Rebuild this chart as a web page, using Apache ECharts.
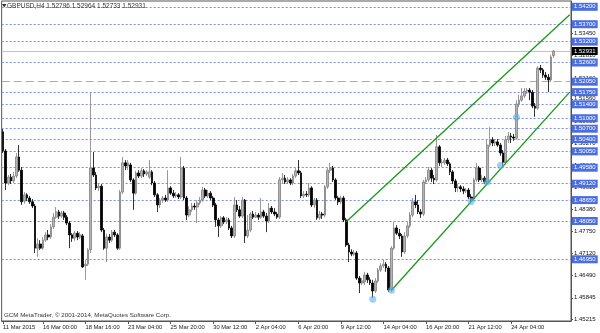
<!DOCTYPE html>
<html><head><meta charset="utf-8">
<script src="https://cdn.jsdelivr.net/npm/echarts@6/dist/echarts.min.js"></script>
<style>html,body{margin:0;padding:0;background:#fff}#c{width:600px;height:333px}</style>
</head><body><div id="c"></div>
<script>
// ---- data ----
const titleText = 'GBPUSD,H4 1.52796 1.52964 1.52733 1.52931';
const copyrightText = 'GCM MetaTrader, \u00a9 2001-2014, MetaQuotes Software Corp.';
// candles: [open, close, low, high]
const candles = [
[1.5061,1.5006,1.5000,1.5069],[1.5006,1.4914,1.4894,1.5012],[1.4914,1.4931,1.4908,1.4937],[1.4931,1.4920,1.4911,1.4940],
[1.4920,1.4934,1.4914,1.4946],[1.4934,1.4989,1.4928,1.5000],[1.4989,1.4951,1.4946,1.5023],[1.4951,1.4860,1.4851,1.4960],
[1.4862,1.4880,1.4854,1.4888],[1.4880,1.4871,1.4862,1.4885],[1.4871,1.4860,1.4854,1.4877],[1.4860,1.4848,1.4842,1.4868],
[1.4848,1.4727,1.4713,1.4854],[1.4727,1.4739,1.4702,1.4756],[1.4739,1.4727,1.4722,1.4750],[1.4727,1.4750,1.4722,1.4759],
[1.4750,1.4765,1.4745,1.4773],[1.4765,1.4759,1.4750,1.4779],[1.4759,1.4788,1.4753,1.4796],[1.4788,1.4816,1.4782,1.4828],
[1.4816,1.4831,1.4811,1.4845],[1.4831,1.4819,1.4811,1.4837],[1.4819,1.4828,1.4814,1.4834],[1.4828,1.4816,1.4808,1.4834],
[1.4816,1.4799,1.4793,1.4822],[1.4799,1.4765,1.4727,1.4805],[1.4765,1.4756,1.4745,1.4770],[1.4756,1.4770,1.4748,1.4776],
[1.4770,1.4759,1.4750,1.4776],[1.4759,1.4765,1.4753,1.4773],[1.4762,1.4673,1.4670,1.4768],[1.4676,1.4681,1.4636,1.4693],
[1.4681,1.4722,1.4676,1.4727],[1.4722,1.4957,1.4713,1.5173],[1.4957,1.4937,1.4931,1.5003],[1.4937,1.4900,1.4894,1.4946],
[1.4900,1.4905,1.4891,1.4914],[1.4905,1.4779,1.4773,1.4911],[1.4779,1.4727,1.4722,1.4785],[1.4727,1.4759,1.4687,1.4768],
[1.4759,1.4750,1.4742,1.4768],[1.4750,1.4773,1.4745,1.4779],[1.4773,1.4765,1.4759,1.4779],[1.4765,1.4727,1.4722,1.4770],
[1.4727,1.4888,1.4722,1.4894],[1.4888,1.4972,1.4882,1.4989],[1.4972,1.4963,1.4951,1.4980],[1.4963,1.4972,1.4951,1.4980],
[1.4966,1.4923,1.4917,1.4972],[1.4923,1.4885,1.4837,1.4928],[1.4885,1.4943,1.4880,1.4949],[1.4943,1.4934,1.4928,1.4951],
[1.4934,1.4949,1.4928,1.4957],[1.4949,1.4940,1.4931,1.4954],[1.4940,1.4946,1.4934,1.4951],[1.4931,1.4946,1.4926,1.4980],
[1.4946,1.4914,1.4908,1.4951],[1.4914,1.4880,1.4874,1.4920],[1.4880,1.4851,1.4831,1.4885],[1.4851,1.4865,1.4842,1.4871],
[1.4865,1.4871,1.4857,1.4877],[1.4871,1.4865,1.4860,1.4880],[1.4865,1.4900,1.4860,1.4951],[1.4900,1.4885,1.4880,1.4905],
[1.4885,1.4877,1.4871,1.4894],[1.4877,1.4880,1.4871,1.4888],[1.4880,1.4874,1.4868,1.4885],[1.4874,1.4957,1.4868,1.4989],
[1.4957,1.4871,1.4865,1.4963],[1.4871,1.4822,1.4808,1.4877],[1.4822,1.4837,1.4816,1.4848],[1.4837,1.4848,1.4831,1.4857],
[1.4848,1.4845,1.4837,1.4857],[1.4845,1.4857,1.4799,1.4865],[1.4857,1.4865,1.4851,1.4874],[1.4865,1.4894,1.4860,1.4903],
[1.4894,1.4877,1.4871,1.4900],[1.4877,1.4885,1.4871,1.4894],[1.4885,1.4871,1.4865,1.4891],[1.4871,1.4851,1.4845,1.4877],
[1.4851,1.4808,1.4788,1.4857],[1.4808,1.4791,1.4759,1.4814],[1.4791,1.4814,1.4785,1.4819],[1.4814,1.4802,1.4796,1.4819],
[1.4802,1.4808,1.4796,1.4816],[1.4808,1.4785,1.4779,1.4814],[1.4785,1.4762,1.4756,1.4791],[1.4762,1.4851,1.4756,1.4874],
[1.4851,1.4837,1.4831,1.4865],[1.4837,1.4819,1.4814,1.4848],[1.4819,1.4865,1.4814,1.4874],[1.4865,1.4762,1.4742,1.4868],
[1.4762,1.4779,1.4756,1.4822],[1.4779,1.4825,1.4773,1.4831],[1.4825,1.4816,1.4811,1.4834],[1.4816,1.4822,1.4814,1.4831],
[1.4822,1.4816,1.4808,1.4828],[1.4816,1.4831,1.4811,1.4871],[1.4831,1.4819,1.4814,1.4837],[1.4819,1.4805,1.4773,1.4828],
[1.4805,1.4842,1.4799,1.4857],[1.4842,1.4831,1.4825,1.4848],[1.4831,1.4825,1.4819,1.4842],[1.4825,1.4816,1.4811,1.4831],
[1.4816,1.4923,1.4811,1.4931],[1.4923,1.4928,1.4914,1.4943],[1.4928,1.4917,1.4911,1.4937],[1.4917,1.4923,1.4911,1.4931],
[1.4923,1.4914,1.4908,1.4928],[1.4914,1.4934,1.4908,1.4940],[1.4934,1.4949,1.4928,1.4957],[1.4949,1.4943,1.4937,1.4980],
[1.4943,1.4877,1.4871,1.4949],[1.4877,1.4882,1.4871,1.4891],[1.4882,1.4880,1.4874,1.4891],[1.4880,1.4900,1.4874,1.4914],
[1.4900,1.4851,1.4845,1.4905],[1.4851,1.4865,1.4842,1.4871],[1.4865,1.4814,1.4808,1.4871],[1.4814,1.4825,1.4808,1.4834],
[1.4825,1.4822,1.4811,1.4831],[1.4822,1.4903,1.4816,1.4908],[1.4903,1.4951,1.4897,1.4957],[1.4951,1.4957,1.4943,1.4972],
[1.4957,1.4923,1.4917,1.4963],[1.4923,1.4871,1.4865,1.4928],[1.4871,1.4860,1.4851,1.4877],[1.4860,1.4871,1.4854,1.4877],
[1.4871,1.4808,1.4802,1.4877],[1.4808,1.4736,1.4730,1.4814],[1.4736,1.4716,1.4687,1.4742],[1.4716,1.4710,1.4704,1.4724],
[1.4710,1.4713,1.4704,1.4722],[1.4713,1.4641,1.4636,1.4719],[1.4641,1.4627,1.4598,1.4647],[1.4627,1.4633,1.4621,1.4641],
[1.4630,1.4650,1.4621,1.4659],[1.4650,1.4636,1.4627,1.4656],[1.4636,1.4627,1.4621,1.4644],[1.4627,1.4604,1.4584,1.4636],
[1.4604,1.4633,1.4598,1.4641],[1.4633,1.4664,1.4627,1.4670],[1.4664,1.4676,1.4659,1.4684],[1.4676,1.4681,1.4670,1.4693],
[1.4681,1.4670,1.4659,1.4687],[1.4670,1.4607,1.4601,1.4676],[1.4607,1.4727,1.4601,1.4733],[1.4727,1.4785,1.4722,1.4802],
[1.4785,1.4770,1.4765,1.4793],[1.4770,1.4762,1.4753,1.4782],[1.4762,1.4716,1.4702,1.4768],[1.4716,1.4762,1.4710,1.4773],
[1.4762,1.4791,1.4756,1.4802],[1.4791,1.4822,1.4785,1.4831],[1.4822,1.4860,1.4816,1.4871],[1.4860,1.4851,1.4842,1.4880],
[1.4851,1.4831,1.4825,1.4865],[1.4831,1.4825,1.4814,1.4839],[1.4825,1.4917,1.4819,1.4923],[1.4917,1.4923,1.4911,1.4931],
[1.4923,1.4951,1.4917,1.4960],[1.4951,1.4928,1.4917,1.4957],[1.4928,1.4923,1.4911,1.4937],[1.4923,1.5018,1.4917,1.5052],
[1.5018,1.4972,1.4963,1.5023],[1.4972,1.4974,1.4960,1.4983],[1.4972,1.4980,1.4966,1.4986],[1.4980,1.4969,1.4963,1.4986],
[1.4969,1.4946,1.4937,1.4974],[1.4946,1.4920,1.4911,1.4951],[1.4920,1.4900,1.4888,1.4926],[1.4900,1.4903,1.4888,1.4911],
[1.4903,1.4897,1.4888,1.4908],[1.4897,1.4891,1.4882,1.4905],[1.4891,1.4894,1.4885,1.4900],[1.4894,1.4874,1.4868,1.4900],
[1.4874,1.4868,1.4860,1.4882],[1.4868,1.4923,1.4862,1.4928],[1.4923,1.4957,1.4917,1.4972],[1.4957,1.4923,1.4917,1.4963],
[1.4923,1.4928,1.4917,1.4937],[1.4928,1.4917,1.4911,1.4934],[1.4917,1.5023,1.4911,1.5038],[1.5023,1.5038,1.5018,1.5075],
[1.5038,1.5029,1.5020,1.5046],[1.5029,1.5032,1.5020,1.5040],[1.5032,1.5023,1.5018,1.5040],[1.5023,1.5000,1.4992,1.5029],
[1.5000,1.4974,1.4963,1.5009],[1.4974,1.5038,1.4969,1.5049],[1.5038,1.5049,1.5029,1.5061],[1.5049,1.5046,1.5029,1.5058],
[1.5046,1.5043,1.5035,1.5055],[1.5043,1.5141,1.5038,1.5152],[1.5141,1.5152,1.5132,1.5167],[1.5152,1.5164,1.5147,1.5187],
[1.5164,1.5178,1.5158,1.5187],[1.5178,1.5181,1.5170,1.5187],[1.5181,1.5175,1.5152,1.5187],[1.5175,1.5135,1.5129,1.5181],
[1.5135,1.5129,1.5104,1.5144],[1.5129,1.5244,1.5124,1.5250],[1.5244,1.5239,1.5230,1.5253],[1.5239,1.5224,1.5216,1.5244],
[1.5224,1.5218,1.5210,1.5233],[1.5218,1.5210,1.5175,1.5227],[1.5210,1.5276,1.5204,1.5282],[1.52796,1.52931,1.52733,1.52964]
];
const emptyBarsRight = 6;
const xTickIndex  = [0, 15, 31, 47, 63, 79, 95, 111, 127, 143, 159, 175, 191];
const xTickLabels = ['11 Mar 2015','16 Mar 00:00','18 Mar 16:00','23 Mar 04:00','25 Mar 20:00','30 Mar 12:00',
                     '2 Apr 04:00','6 Apr 20:00','9 Apr 12:00','14 Apr 04:00','16 Apr 20:00','21 Apr 12:00','24 Apr 04:00'];
const yTickValues = [1.45215,1.45845,1.46490,1.47120,1.47750,1.48380,1.49010,1.49640,1.50270,1.50900,1.51560,1.52160,1.52810,1.53450];
const levelLines  = [1.54200,1.53700,1.53200,1.52600,1.51750,1.51400,1.51000,1.50700,1.50400,1.50050,1.49580,1.49120,1.48650,1.48050,1.46950];
const dashedLevel = 1.52050;
const currentPrice = 1.52931;
const upperChannel = [[129, 1.4803], [213, 1.5397]];
const lowerChannel = [[146, 1.4606], [213, 1.5175]];
const markers = [[139, 1.4580], [146, 1.4606], [176, 1.4861], [182, 1.4917], [187, 1.4964], [193, 1.5103]];
const yMin = 1.45178, yMax = 1.54367;

// ---- chart ----
const categories = [];
for (let i = 0; i < candles.length + emptyBarsRight; i++) categories.push(String(i));
const tickLabelOf = {};
xTickIndex.forEach((k, j) => { tickLabelOf[k] = xTickLabels[j]; });
const isTick = (idx) => Object.prototype.hasOwnProperty.call(tickLabelOf, idx);

const FONT = 'Liberation Sans';
const blueLabel = {
  show: true, position: 'end', distance: 1, formatter: p => Number(p.value).toFixed(5),
  backgroundColor: '#4a6ee0', color: '#ffffff', fontSize: 6, fontFamily: FONT,
  padding: [1, 2, 1, 2], borderRadius: 0
};
const lineData = levelLines.map(v => ({
  yAxis: v, lineStyle: { color: '#7a8fe6', type: [2, 2], width: 1 }, label: blueLabel
}));
lineData.push({ yAxis: dashedLevel, lineStyle: { color: '#93aaf0', type: [8, 4], width: 1 }, label: blueLabel });
lineData.push({ yAxis: currentPrice, lineStyle: { color: '#c4c4c4', type: 'solid', width: 1 },
  label: Object.assign({}, blueLabel, { backgroundColor: '#000000' }) });

const chart = echarts.init(document.getElementById('c'), null, { renderer: 'canvas' });
chart.setOption({
  animation: false,
  backgroundColor: '#ffffff',
  grid: { left: 1, right: 29, top: 1, bottom: 12, show: true, borderColor: '#555555', borderWidth: 1, backgroundColor: 'transparent' },
  xAxis: {
    type: 'category', data: categories, boundaryGap: true,
    axisLine: { show: true, lineStyle: { color: '#555555' } },
    axisTick: { show: true, alignWithLabel: true, interval: (i) => isTick(i), length: 3, lineStyle: { color: '#555555' } },
    axisLabel: { show: true, interval: (i) => isTick(i), formatter: (v, i) => tickLabelOf[i] || '',
      align: 'left', margin: 3, fontSize: 5.8, fontFamily: FONT, color: '#222222' },
    splitLine: { show: false }
  },
  yAxis: {
    type: 'value', position: 'right', min: yMin, max: yMax, scale: true,
    axisLine: { show: true, lineStyle: { color: '#555555' } },
    axisTick: { show: true, customValues: yTickValues, length: 2, lineStyle: { color: '#555555' } },
    axisLabel: { show: true, customValues: yTickValues, formatter: v => Number(v).toFixed(5), margin: 3,
      fontSize: 6, fontFamily: FONT, color: '#111111' },
    splitLine: { show: false }
  },
  graphic: [
    { type: 'polygon', z: 100, shape: { points: [[2, 4], [6.5, 4], [4.25, 7.5]] }, style: { fill: '#333333' } },
    { type: 'text', z: 100, x: 7, y: 6, style: { text: titleText, font: '6.5px ' + FONT, fill: '#333333', verticalAlign: 'middle' } },
    { type: 'text', z: 100, x: 4, y: 315, style: { text: copyrightText, font: '6.2px ' + FONT, fill: '#333333', verticalAlign: 'middle' } }
  ],
  series: [
    {
      type: 'candlestick', data: candles, barWidth: 2.2, z: 3,
      itemStyle: { color: '#b4b4b4', color0: '#000000', borderColor: '#808080', borderColor0: '#000000', borderWidth: 0.8 },
      markLine: { silent: true, symbol: 'none', animation: false, precision: 5, data: lineData, z: 2 }
    },
    { type: 'line', data: upperChannel, showSymbol: false, symbol: 'none', z: 4,
      lineStyle: { color: '#179a17', width: 1.3 } },
    { type: 'line', data: lowerChannel, showSymbol: false, symbol: 'none', z: 4,
      lineStyle: { color: '#179a17', width: 1.3 } },
    { type: 'scatter', data: markers, symbolSize: 7, z: 5,
      itemStyle: { color: 'rgba(95,175,235,0.75)' } }
  ]
});
</script></body></html>
